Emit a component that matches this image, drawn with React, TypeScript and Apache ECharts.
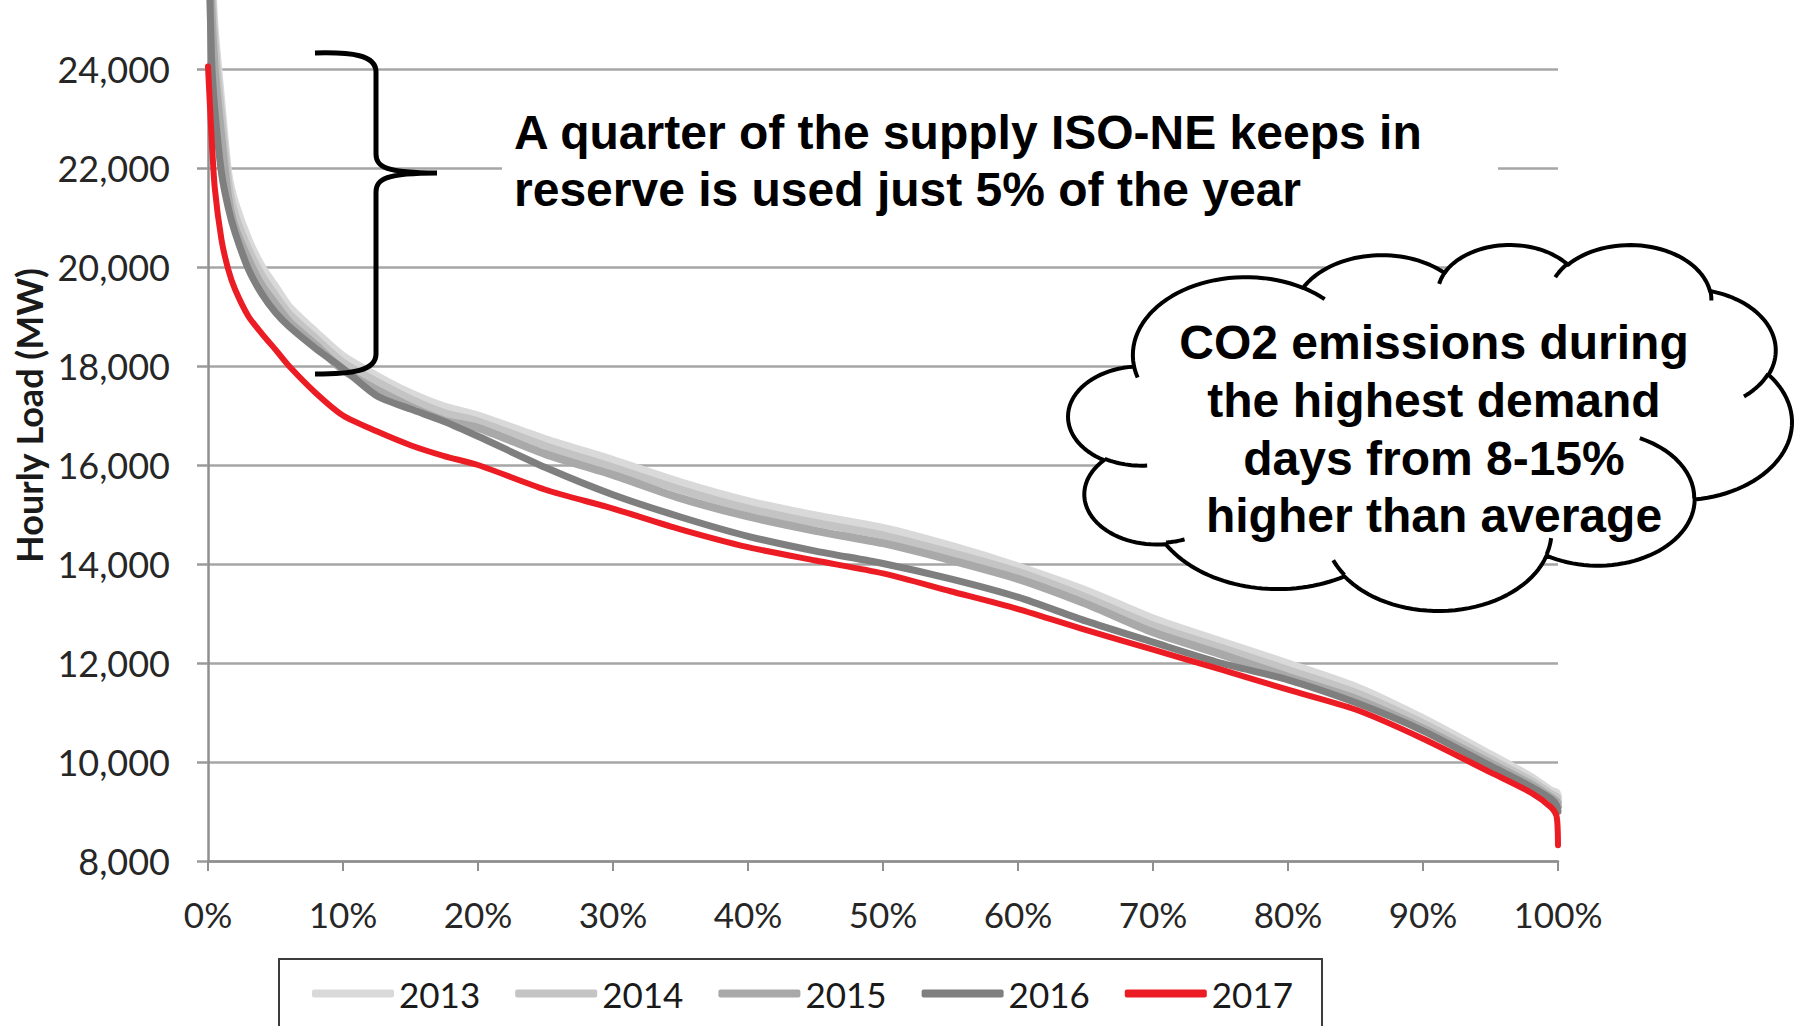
import React, { useEffect, useRef } from 'react';
import * as echarts from 'echarts';

// ---- data -------------------------------------------------------------
const years = ['2013', '2014', '2015', '2016', '2017'];

// share of the year's hours (%) at which each load level is reached or exceeded
const hoursPct = [0, 0.25, 0.5, 1, 1.5, 2, 3, 4, 5, 6, 8, 10, 12.5, 15, 17.5, 20, 25, 30, 35, 40, 45, 50, 55, 60, 65, 70, 75, 80, 85, 90, 95, 98, 99.5, 99.9, 100];

// hourly load (MW), sorted high to low
const load2013 = [28500, 26200, 24800, 23300, 21900, 21300, 20550, 20000, 19600, 19200, 18680, 18200, 17800, 17450, 17180, 17000, 16520, 16100, 15650, 15270, 14980, 14730, 14370, 13950, 13470, 12900, 12440, 11990, 11520, 10880, 10150, 9700, 9420, 9380, 9300];
const load2014 = [28000, 25800, 24500, 23000, 21700, 21050, 20350, 19820, 19420, 19050, 18550, 18070, 17680, 17330, 17050, 16880, 16380, 15950, 15500, 15120, 14830, 14580, 14230, 13840, 13330, 12760, 12310, 11860, 11400, 10780, 10060, 9620, 9350, 9290, 9200];
const load2015 = [27000, 25200, 24000, 22600, 21400, 20800, 20150, 19620, 19250, 18900, 18420, 17920, 17520, 17180, 16900, 16750, 16220, 15800, 15330, 14960, 14670, 14420, 14080, 13700, 13200, 12620, 12180, 11720, 11280, 10680, 9980, 9550, 9280, 9200, 9100];
const load2016 = [27000, 24300, 23200, 21900, 21200, 20700, 19950, 19450, 19080, 18800, 18350, 17950, 17400, 17130, 16880, 16580, 15950, 15400, 14950, 14560, 14260, 14010, 13700, 13330, 12850, 12420, 12000, 11660, 11200, 10630, 9920, 9500, 9250, 9120, 9000];
const load2017 = [24050, 22700, 21600, 20550, 19950, 19550, 19000, 18650, 18330, 18000, 17450, 17000, 16680, 16400, 16180, 16000, 15500, 15120, 14700, 14340, 14070, 13810, 13450, 13090, 12670, 12270, 11870, 11460, 11060, 10470, 9790, 9380, 9080, 8900, 8320];

const loadByYear = [load2013, load2014, load2015, load2016, load2017];

// axis ranges
const loadMin = 8000;
const loadMax = 26000;
const loadStep = 2000;
const pctMin = 0;
const pctMax = 100;
const pctStep = 10;

// annotation texts
const braceNote = ['A quarter of the supply ISO-NE keeps in', 'reserve is used just 5% of the year'];
const cloudNote = ['CO2 emissions during', 'the highest demand', 'days from 8-15%', 'higher than average'];

// ---- styling ----------------------------------------------------------
const lineStyles = [
  { color: '#d9d9d9', width: 8 },
  { color: '#c4c4c4', width: 8 },
  { color: '#a9a9a9', width: 8 },
  { color: '#7f7f7f', width: 7 },
  { color: '#ec1c24', width: 6 },
];
const AXIS_FONT = 'Lato, "Open Sans", sans-serif';
const NOTE_FONT = 'bold 48px "Liberation Sans", Arial, sans-serif';

// curly brace beside the peak section of the curves
echarts.graphic.registerShape(
  'noteBrace',
  echarts.graphic.extendPath(
    'M315,53 C352,52 376,55 376,72 L376,154 C376,167 386,173 437,173 M437,173 C386,173 376,179 376,192 L376,354 C376,371 352,374 315,374',
    {}
  )
);

// ---- cloud callout outline (OOXML "cloud" preset, 43200 x 43200 units) ----
type Pt = [number, number];
const CLOUD_START: Pt = [3900, 14370];
const CLOUD_ARCS: number[][] = [
  [6753, 9190, -11429249, 7426832],
  [5333, 7267, -8646143, 5396714],
  [4365, 5945, -8748475, 5983381],
  [4857, 6595, -7859164, 7034504],
  [5333, 7273, -4722533, 6541615],
  [6775, 9220, -2776035, 7816140],
  [5785, 7867, 37501, 6842000],
  [6752, 9215, 1347096, 6910353],
  [7720, 10543, 3974558, 4542661],
  [4360, 5918, -16496525, 8804134],
  [4345, 5945, -14809710, 9151131],
];
const CLOUD_INNER: number[][] = [
  [4693, 26177, 4345, 5945, 5204520, 1585770],
  [6928, 34899, 4360, 5918, 4416628, 686848],
  [16478, 39090, 6752, 9215, 8257449, 844866],
  [28827, 34751, 6752, 9215, 387196, 959901],
  [34129, 22954, 5785, 7867, -4217541, 4255042],
  [41798, 15354, 5333, 7273, 1819082, 1665090],
  [38324, 5426, 4857, 6595, -824660, 891534],
  [29078, 3952, 4857, 6595, -8950887, 1091722],
  [22141, 4720, 4365, 5945, -9809656, 1235889],
  [14000, 5192, 6753, 9190, -4002417, 739161],
  [4127, 15789, 6753, 9190, 9459261, 711490],
];

function arcPoints(start: Pt, wR: number, hR: number, stAng: number, swAng: number, steps = 36): Pt[] {
  const rad = (v: number) => (v / 60000) * (Math.PI / 180);
  const a1 = rad(stAng);
  const a2 = rad(stAng + swAng);
  const t1 = Math.atan2(wR * Math.sin(a1), hR * Math.cos(a1));
  let t2 = Math.atan2(wR * Math.sin(a2), hR * Math.cos(a2));
  if (swAng > 0) {
    while (t2 <= t1) t2 += Math.PI * 2;
  } else {
    while (t2 >= t1) t2 -= Math.PI * 2;
  }
  const cx = start[0] - wR * Math.cos(t1);
  const cy = start[1] - hR * Math.sin(t1);
  const pts: Pt[] = [];
  for (let i = 1; i <= steps; i++) {
    const t = t1 + ((t2 - t1) * i) / steps;
    pts.push([cx + wR * Math.cos(t), cy + hR * Math.sin(t)]);
  }
  return pts;
}

function buildCloud(box: { x: number; y: number; w: number; h: number }) {
  const outline: Pt[] = [CLOUD_START];
  for (const [wR, hR, st, sw] of CLOUD_ARCS) {
    outline.push(...arcPoints(outline[outline.length - 1], wR, hR, st, sw));
  }
  const inner: Pt[][] = CLOUD_INNER.map(([x, y, wR, hR, st, sw]) => {
    const s: Pt = [x, y];
    return [s, ...arcPoints(s, wR, hR, st, sw, 14)];
  });
  const xs = outline.map((p) => p[0]);
  const ys = outline.map((p) => p[1]);
  const minX = Math.min(...xs);
  const maxX = Math.max(...xs);
  const minY = Math.min(...ys);
  const maxY = Math.max(...ys);
  const fit = (p: Pt): number[] => [
    box.x + ((p[0] - minX) / (maxX - minX)) * box.w,
    box.y + ((p[1] - minY) / (maxY - minY)) * box.h,
  ];
  return { outline: outline.map(fit), inner: inner.map((arc) => arc.map(fit)) };
}

function buildOption(): echarts.EChartsOption {
  const cloud = buildCloud({ x: 1068, y: 245, w: 724, h: 366 });
  const cloudCx = 1434;
  const cloudLineY = [342, 400, 458, 515];

  const graphics: any[] = [
    // brace
    {
      type: 'noteBrace',
      z: 100,
      style: { stroke: '#000', lineWidth: 5, fill: 'none', lineCap: 'butt', lineJoin: 'round' },
    },
    // note text box
    {
      type: 'rect',
      z: 100,
      shape: { x: 502, y: 90, width: 996, height: 140 },
      style: { fill: '#ffffff', stroke: 'none' },
    },
    ...braceNote.map((line, i) => ({
      type: 'text',
      z: 101,
      x: 514,
      y: 132 + i * 57,
      style: {
        text: line,
        font: NOTE_FONT,
        fill: '#000',
        align: 'left',
        verticalAlign: 'middle',
        textAlign: 'left',
        textVerticalAlign: 'middle',
      },
    })),
    // cloud callout
    {
      type: 'polygon',
      z: 100,
      shape: { points: cloud.outline },
      style: { fill: '#ffffff', stroke: '#000', lineWidth: 4, lineJoin: 'round' },
    },
    ...cloud.inner.map((pts) => ({
      type: 'polyline',
      z: 101,
      shape: { points: pts },
      style: { stroke: '#000', lineWidth: 4, fill: 'none', lineCap: 'butt' },
    })),
    ...cloudNote.map((line, i) => ({
      type: 'text',
      z: 102,
      x: cloudCx,
      y: cloudLineY[i],
      style: {
        text: line,
        font: NOTE_FONT,
        fill: '#000',
        align: 'center',
        verticalAlign: 'middle',
        textAlign: 'center',
        textVerticalAlign: 'middle',
      },
    })),
  ];

  return {
    animation: false,
    backgroundColor: '#ffffff',
    color: lineStyles.map((s) => s.color),
    grid: {
      left: 208,
      right: 240,
      top: -30,
      bottom: 165,
      containLabel: false,
      outerBoundsMode: 'none',
    } as any,
    legend: {
      data: years,
      left: 279,
      top: 959,
      orient: 'horizontal',
      icon: 'roundRect',
      itemWidth: 82,
      itemHeight: 8,
      itemGap: 35,
      padding: [17, 29, 40, 33],
      borderColor: '#3c3c3c',
      borderWidth: 2,
      backgroundColor: '#ffffff',
      itemStyle: { borderWidth: 0 },
      textStyle: { fontFamily: AXIS_FONT, fontSize: 35, color: '#1a1a1a' },
    },
    xAxis: {
      type: 'value',
      min: pctMin,
      max: pctMax,
      interval: pctStep,
      axisLine: { show: true, onZero: false, lineStyle: { color: '#8f8f8f', width: 2.5 } },
      axisTick: { show: true, length: 10, lineStyle: { color: '#8f8f8f', width: 2 } },
      splitLine: { show: false },
      axisLabel: {
        formatter: '{value}%',
        margin: 35,
        fontFamily: AXIS_FONT,
        fontSize: 35,
        color: '#262626',
      },
    },
    yAxis: {
      type: 'value',
      min: loadMin,
      max: loadMax,
      interval: loadStep,
      name: 'Hourly Load (MW)',
      nameLocation: 'middle',
      nameGap: 159,
      nameRotate: 90,
      nameTextStyle: { fontFamily: AXIS_FONT, fontWeight: 'bold', fontSize: 36, color: '#1a1a1a' },
      axisLine: { show: true, lineStyle: { color: '#8f8f8f', width: 2.5 } },
      axisTick: { show: true, length: 11, lineStyle: { color: '#9a9a9a', width: 2.5 } },
      splitLine: { show: true, lineStyle: { color: '#a6a6a6', width: 2.5 } },
      axisLabel: {
        margin: 38,
        showMaxLabel: false,
        fontFamily: AXIS_FONT,
        fontSize: 36,
        color: '#262626',
        formatter: (v: number) => v.toLocaleString('en-US'),
      },
    },
    series: years.map((year, k) => ({
      name: year,
      type: 'line',
      data: hoursPct.map((p, i) => [p, loadByYear[k][i]]),
      symbol: 'none',
      showSymbol: false,
      smooth: 0.25,
      clip: true,
      itemStyle: { color: lineStyles[k].color },
      lineStyle: { color: lineStyles[k].color, width: lineStyles[k].width, cap: 'round', join: 'round' },
      emphasis: { disabled: true },
      z: 2 + k,
    })),
    graphic: { elements: graphics },
  } as echarts.EChartsOption;
}

export default function App() {
  const ref = useRef<HTMLDivElement>(null);

  useEffect(() => {
    document.body.style.margin = '0';
    if (!ref.current) return;
    const chart = echarts.init(ref.current, null, { renderer: 'svg' });
    chart.setOption(buildOption());
    return () => chart.dispose();
  }, []);

  return <div ref={ref} style={{ width: 1798, height: 1026, background: '#ffffff' }} />;
}
